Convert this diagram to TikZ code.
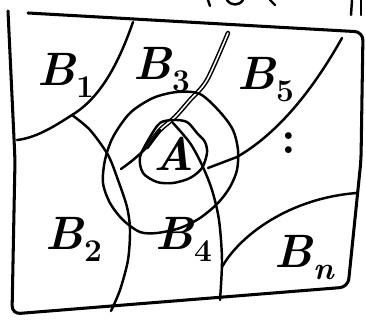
\documentclass[tikz,border=0pt]{standalone}
\usepackage{fontspec}
\usepackage{tikz}
\usetikzlibrary{positioning, calc}

\newcommand{\blab}[2]{\textit{#1}\raisebox{-0.25em}{\fontsize{27}{29}\selectfont #2}}

\tikzset{
  ink/.style={line width=2.1pt, line cap=round, line join=round},
  region/.style={font=\fontsize{40}{44}\selectfont\bfseries, inner sep=0pt, anchor=base west},
}

\begin{document}
\begin{tikzpicture}[x=0.03cm, y=-0.03cm, ink]
    \useasboundingbox (0,0) rectangle (366,320);
    % Frame
    \draw [line width=2.6pt, rounded corners=7pt] (28,13) -- (363,32) -- (361,160) -- (348,287) -- (12,314) -- (15,160) -- (8,11);
    % Cut-off strokes along the top edge
    \draw (208,0) -- (210,6);
    \draw (227,0) .. controls (231,6) and (239,6) .. (243,0);
    \draw (270,0) -- (275,5);
    \draw (352,0) -- (351,15);
    \draw (361,0) -- (361,15);
    % Region boundaries
    \coordinate (fork) at (72,115);
    \draw (133,22) .. controls (118,65) and (100,98) .. (fork) .. controls (52,128) and (35,138) .. (17,140);
    \draw plot [smooth] coordinates {(fork) (90,130) (108,155) (118,180) (127,207) (130,230) (128,260) (120,290) (111,311)};
    \draw [line width=1.3pt, double, double distance=1.3pt] plot [smooth] coordinates {(228,33) (207,80) (190,100) (175,117) (160,130) (147,147)};
    \draw plot [smooth] coordinates {(160,130) (147,147) (133,160) (121,169)};
    \draw (342,38) .. controls (310,95) and (275,135) .. (237,157) -- (208,168);
    \draw plot [smooth] coordinates {(173,123) (190,143) (202,165) (212,190) (219,220) (222,260) (220,300)};
    \draw (222,267) .. controls (240,235) and (290,198) .. (357,193);
    % Outer circle
    \draw plot [smooth cycle] coordinates {(105,160) (113,137) (130,113) (153,98) (177,92) (200,94) (220,112) (233,130) (238,150) (237,170) (230,187) (218,203) (200,218) (180,228) (157,233) (140,232) (123,220) (110,203) (103,183)};
    % Inner circle
    \draw plot [smooth cycle] coordinates {(140,157) (143,173) (157,182) (173,183) (190,178) (202,168) (207,153) (205,142) (197,133) (187,122) (173,120) (160,123) (150,137)};
    % Labels
    \node [region] (b1) at (36,86) {\blab{B}{1}};
    \node [region] (b3) at (132,80) {\blab{B}{3}};
    \node [region] (b5) at (236,90) {\blab{B}{5}};
    \node [region] (b2) at (44,250) {\blab{B}{2}};
    \node [region] (b4) at (154,250) {\blab{B}{4}};
    \node [region] (bn) at (273,268) {\blab{B}{\textit{n}}};
    \node [region, anchor=center] (a) at (174,154) {\textit{A}};
    \node [region, anchor=center] (dots) at (289,143) {:};
\end{tikzpicture}
\end{document}
